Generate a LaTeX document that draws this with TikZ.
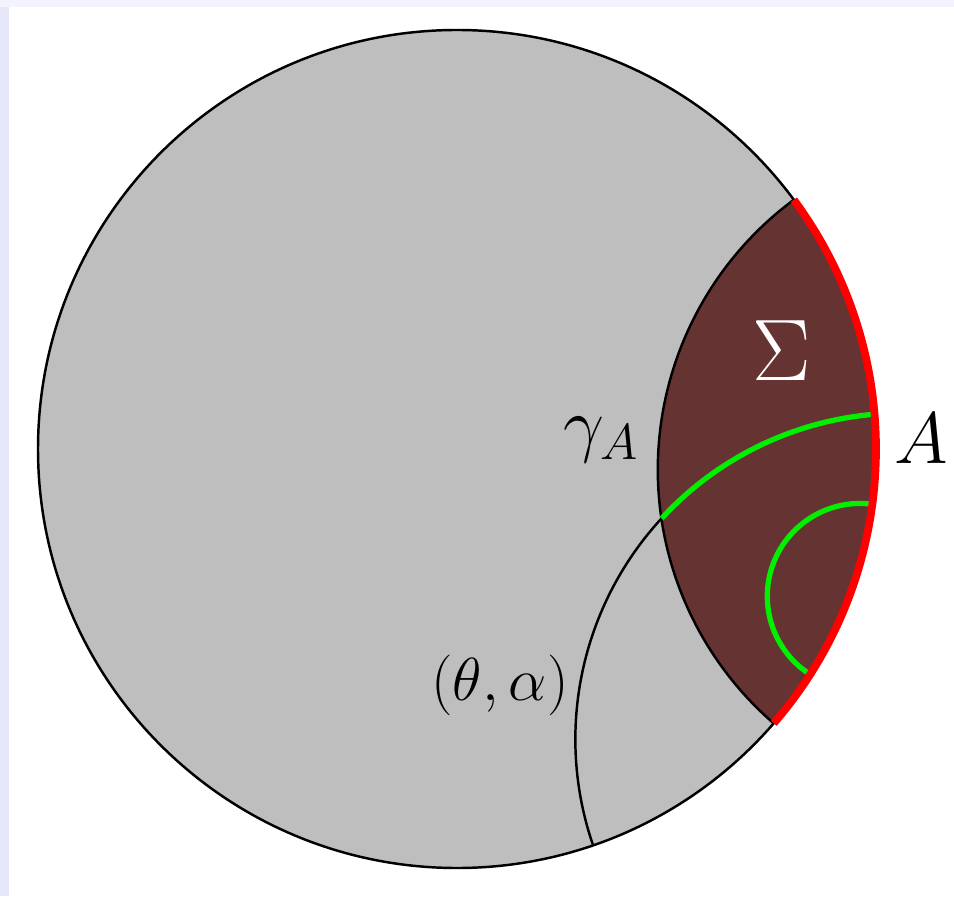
\documentclass[tikz,border=0pt]{standalone}
\usepackage{amsmath}
\definecolor{diskgrey}{HTML}{BEBEBE}
\definecolor{sigmacol}{HTML}{663333}
\definecolor{geogreen}{HTML}{00F000}
\definecolor{bdred}{HTML}{FF0000}
\definecolor{leftstrip}{HTML}{E7E7FA}
\definecolor{topstrip}{HTML}{F3F3FE}
\begin{document}
\begin{tikzpicture}[
  blackline/.style={draw=black, line width=0.7pt},
  greenline/.style={draw=geogreen, line width=1.5pt},
  redline/.style={draw=bdred, line width=2.2pt},
  biglabel/.style={inner sep=0pt, font=\fontsize{20}{24}\selectfont},
  smalllabel/.style={inner sep=0pt, font=\fontsize{16.5}{20}\selectfont}
]
% page and frame
\useasboundingbox (0,0) rectangle (9.54,-8.96);
\fill[white] (0,0) rectangle (9.54,-8.96);
\fill[leftstrip] (0,0) rectangle (0.09,-8.96);
\fill[topstrip] (0,0) rectangle (9.54,-0.07);

\begin{scope}[shift={(4.57,-4.49)}]
  \coordinate (O) at (0,0);
  \coordinate (P1) at (36.5:4.19);
  \coordinate (P2) at (-40.9:4.19);
  \coordinate (Q1) at (4.76:4.19);
  \coordinate (X) at (2.044,-0.695);
  \coordinate (S1) at (-7.58:4.19);

  % disk
  \fill[diskgrey] (O) circle[radius=4.19cm];
  % region Sigma
  \fill[sigmacol] (P2) arc[start angle=-40.9, end angle=36.5, radius=4.19cm]
        arc[start angle=126.5, end angle=229.1, radius=3.357cm] -- cycle;
  % boundary circle
  \draw[blackline] (O) circle[radius=4.19cm];
  % gamma_A
  \draw[blackline] (P1) arc[start angle=126.5, end angle=229.1, radius=3.357cm];
  % geodesic through (theta, alpha): black part outside Sigma
  \draw[blackline] (X) arc[start angle=137.4, end angle=199, radius=3.261cm];
  % green part inside Sigma
  \draw[greenline] (Q1) arc[start angle=94.76, end angle=137.4, radius=3.261cm];
  % small green geodesic
  \draw[greenline] (S1) arc[start angle=82.42, end angle=237.44, radius=0.928cm];
  % boundary region A
  \draw[redline] (P2) arc[start angle=-40.9, end angle=36.5, radius=4.19cm];
\end{scope}

% labels
\node[biglabel, text=white, font=\fontsize{24}{28}\selectfont] (sig) at (7.82,-3.51) {$\Sigma$};
\node[biglabel] (gam) at (6.01,-4.40) {$\gamma_A$};
\node[biglabel] (lblA) at (9.21,-4.39) {$A$};
\node[smalllabel] (pt) at (5.00,-6.85) {$(\theta,\alpha)$};
\end{tikzpicture}
\end{document}
